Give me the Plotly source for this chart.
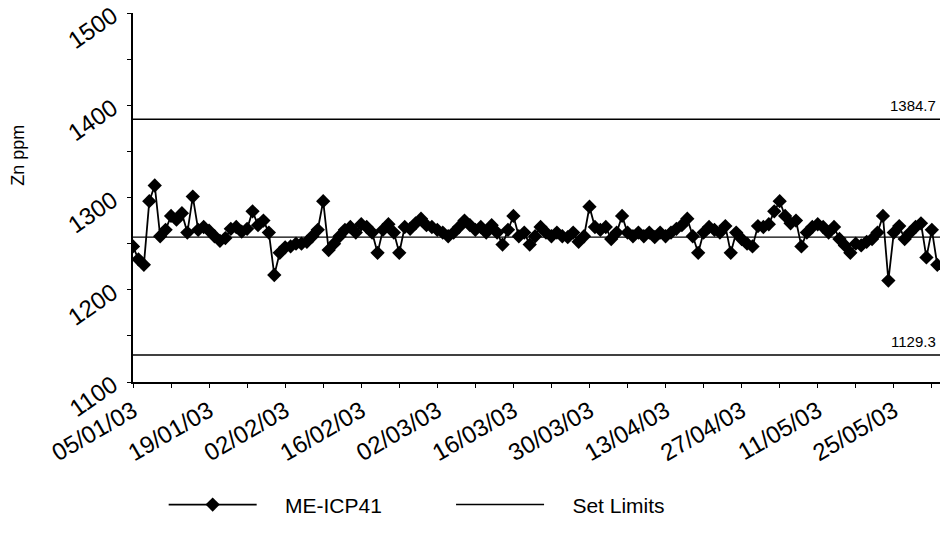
import pandas as pd
import plotly.graph_objects as go

start_date = "2003-01-05"
zn_values = [
    1247, 1233, 1227, 1296, 1313, 1258, 1265, 1280, 1276, 1283,
    1262, 1301, 1265, 1268, 1264, 1258, 1253, 1256, 1266, 1268,
    1263, 1266, 1285, 1270, 1275, 1262, 1216, 1240, 1246, 1247,
    1250, 1250, 1252, 1258, 1265, 1296, 1243, 1250, 1258, 1265,
    1268, 1262, 1271, 1268, 1262, 1240, 1265, 1271, 1262, 1240,
    1268, 1266, 1272, 1277, 1270, 1268, 1265, 1262, 1258, 1262,
    1268, 1275, 1270, 1265, 1268, 1262, 1270, 1262, 1249, 1265,
    1280, 1258, 1262, 1249, 1258, 1268, 1262, 1258, 1262, 1258,
    1257, 1262, 1252, 1258, 1290, 1268, 1265, 1268, 1255, 1262,
    1280, 1262, 1258, 1262, 1258, 1262, 1257, 1262, 1258, 1262,
    1266, 1270, 1277, 1258, 1240, 1262, 1268, 1265, 1262, 1269,
    1240, 1262, 1255, 1250, 1247, 1269, 1268, 1271, 1285, 1296,
    1280, 1272, 1275, 1247, 1262, 1268, 1271, 1268, 1262, 1268,
    1255, 1248, 1240, 1250, 1248, 1252, 1255, 1262, 1280, 1210,
    1262, 1269, 1255, 1262, 1268, 1272, 1235, 1265, 1227,
]
mean_value = 1257.0
upper_limit = 1384.7
lower_limit = 1129.3
x_range = ["2003-01-05", "2003-06-02 12:00"]
y_range = [1100, 1500]

dates = pd.date_range(start_date, periods=len(zn_values), freq="D")
line_x = [pd.Timestamp(x_range[0]), pd.Timestamp(x_range[1])]

font_family = "Liberation Sans, Arial, sans-serif"
nb = "\u00a0"

fig = go.Figure()
fig.add_trace(go.Scatter(
    x=line_x, y=[upper_limit, upper_limit], mode="lines",
    line=dict(color="black", width=1.5), name="Set Limits",
    showlegend=False))
fig.add_trace(go.Scatter(
    x=dates, y=zn_values, mode="lines+markers",
    name=nb * 4 + "ME-ICP41" + nb * 11,
    line=dict(color="black", width=1.8),
    marker=dict(symbol="diamond", size=11, color="black"),
    legendrank=1))
fig.add_trace(go.Scatter(
    x=line_x, y=[lower_limit, lower_limit], mode="lines",
    line=dict(color="black", width=1.5), name=nb * 4 + "Set Limits",
    showlegend=True, legendrank=2))
fig.add_trace(go.Scatter(
    x=line_x, y=[mean_value, mean_value], mode="lines",
    line=dict(color="black", width=1.2), showlegend=False))

fig.add_annotation(x=1, xref="paper", y=upper_limit, yref="y",
                   text="1384.7", showarrow=False, xanchor="right",
                   yanchor="bottom", yshift=3, xshift=-2,
                   font=dict(size=15, color="black", family=font_family))
fig.add_annotation(x=1, xref="paper", y=lower_limit, yref="y",
                   text="1129.3", showarrow=False, xanchor="right",
                   yanchor="bottom", yshift=3, xshift=-2,
                   font=dict(size=15, color="black", family=font_family))
fig.add_annotation(x=-0.143, xref="paper", y=0.615, yref="paper",
                   text="Zn ppm", showarrow=False, textangle=-90,
                   xanchor="center", yanchor="middle",
                   font=dict(size=18, color="black", family=font_family))

fig.update_layout(
    width=943, height=535,
    margin=dict(l=133, r=3, t=13, b=153, autoexpand=False),
    paper_bgcolor="white", plot_bgcolor="white",
    font=dict(family=font_family, color="black", size=16),
    showlegend=True,
    legend=dict(orientation="h", x=0.038, xanchor="left", y=-0.333,
                yanchor="middle", itemwidth=88, font=dict(size=21),
                traceorder="normal"),
    xaxis=dict(
        type="date", range=x_range, showgrid=False, zeroline=False,
        automargin=False,
        showline=True, linecolor="black", linewidth=1.5,
        ticks="outside", ticklen=4, tickcolor="black",
        tick0="2003-01-05", dtick=14 * 86400000, tickformat="%d/%m/%y",
        tickangle=-30, tickfont=dict(size=24),
        minor=dict(dtick=7 * 86400000, tick0="2003-01-05",
                   ticks="outside", ticklen=4, tickcolor="black"),
    ),
    yaxis=dict(
        range=y_range, showgrid=False, zeroline=False, automargin=False,
        showline=True, linecolor="black", linewidth=1.5,
        ticks="outside", ticklen=4, tickcolor="black",
        dtick=100, tickangle=-35, tickfont=dict(size=24),
        ticklabelstandoff=10,
        minor=dict(dtick=50, ticks="outside", ticklen=4, tickcolor="black"),
    ),
)

fig.write_html(
    "out.html",
    config={"displayModeBar": False},
    post_script="document.body.style.margin='0';"
                "document.body.style.overflow='hidden';",
)
